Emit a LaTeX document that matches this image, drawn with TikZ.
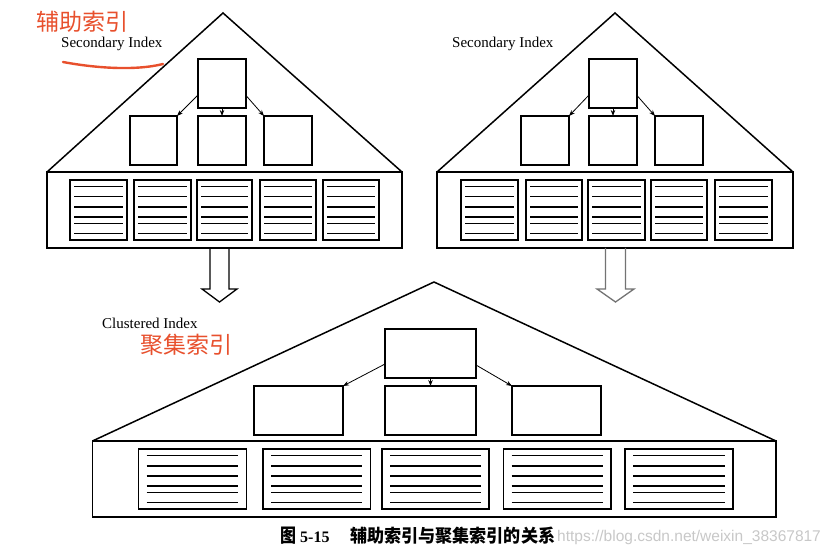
\documentclass[tikz,border=0pt]{standalone}
\usepackage{fontspec}
\setmainfont{Liberation Serif}
\newfontfamily\cjkfont{Noto Sans CJK SC}
\newfontfamily\wmfont{Liberation Sans}
\usetikzlibrary{arrows.meta,calc}
\definecolor{annot}{RGB}{232,80,45}
\definecolor{wmgray}{RGB}{200,200,200}
\tikzset{
  box/.style={draw, line width=1.6pt, inner sep=0pt, outer sep=0pt},
  tri/.style={line width=1.5pt, line join=miter},
  leafline/.style={line width=1.4pt},
  conn/.style={line width=0.8pt, -{Stealth[length=6pt,width=4.5pt]}},
  bigarrow/.style={line width=1.3pt, line join=miter},
  entitle/.style={anchor=base west, inner sep=0pt, font=\fontsize{15}{15}\selectfont},
  redtitle/.style={anchor=center, inner sep=0pt, text=annot, font=\cjkfont\fontsize{23}{23}\selectfont},
  captext/.style={anchor=base west, inner sep=0pt, font=\cjkfont\bfseries},
}
\newcommand\bx[5]{\node[box, minimum width={(#4)-(#2)}, minimum height={(#5)-(#3)}] (#1) at ({((#2)+(#4))/2},{((#3)+(#5))/2}) {};}
\newcommand\leafbox[5]{\bx{#1}{#2}{#3}{#4}{#5}%
  \foreach \fr in {0.105,0.28,0.45,0.617,0.725,0.89}{%
    \draw[leafline] ($(#1.north west)!\fr!(#1.south west)$) ++({0.075*((#4)-(#2))},0) -- ++({0.85*((#4)-(#2))},0);}}
\begin{document}
\begin{tikzpicture}[x=1pt,y=-1pt]
\fill[white] (0,0) rectangle (835,553);
\useasboundingbox (0,0) rectangle (835,553);

% ---------- top-left secondary index ----------
\bx{lbase}{47}{172}{402}{248}
\coordinate (lapex) at (223,13);
\draw[tri] (lbase.north west) -- (lapex) -- (lbase.north east);
\bx{lroot}{198}{59}{246}{108}
\bx{lc1}{130}{116}{177}{165}
\bx{lc2}{198}{116}{246}{165}
\bx{lc3}{264}{116}{312}{165}
\draw[conn] ([yshift=-11.5pt]lroot.west) -- (lc1.north east);
\draw[conn] (lroot.south) -- (lc2.north);
\draw[conn] ([yshift=-12pt]lroot.east) -- (lc3.north west);
\leafbox{ll1}{70}{180}{127}{240}
\leafbox{ll2}{134}{180}{191}{240}
\leafbox{ll3}{197}{180}{252}{240}
\leafbox{ll4}{260}{180}{316}{240}
\leafbox{ll5}{323}{180}{379}{240}
\node[entitle] (ltitle) at (61,48) {Secondary Index};
\node[redtitle] (lred) at (82.5,22) {辅助索引};
\draw[annot, line width=2.4pt, line cap=round] (63,62) .. controls (95,68) and (135,71) .. (163,64);

% ---------- top-right secondary index ----------
\bx{rbase}{437}{172}{793}{248}
\coordinate (rapex) at (615,13);
\draw[tri] (rbase.north west) -- (rapex) -- (rbase.north east);
\bx{rroot}{589}{59}{637}{108}
\bx{rc1}{521}{116}{569}{165}
\bx{rc2}{589}{116}{637}{165}
\bx{rc3}{655}{116}{703}{165}
\draw[conn] ([yshift=-11.5pt]rroot.west) -- (rc1.north east);
\draw[conn] (rroot.south) -- (rc2.north);
\draw[conn] ([yshift=-12pt]rroot.east) -- (rc3.north west);
\leafbox{rl1}{461}{180}{518}{240}
\leafbox{rl2}{526}{180}{582}{240}
\leafbox{rl3}{588}{180}{645}{240}
\leafbox{rl4}{651}{180}{707}{240}
\leafbox{rl5}{715}{180}{772}{240}
\node[entitle] (rtitle) at (452,48) {Secondary Index};

% ---------- hollow arrows ----------
\coordinate (arrL) at (219.5,248);
\coordinate (arrR) at (615.5,248);
\draw[bigarrow] ([xshift=-9.5pt]arrL) -- ++(0,41) -- ++(-8,0) -- ++(17.5,13) -- ++(17.5,-13) -- ++(-8,0) -- ++(0,-41);
\draw[bigarrow, draw=black!55] ([xshift=-10pt]arrR) -- ++(0,41) -- ++(-8.5,0) -- ++(18.5,13) -- ++(18.5,-13) -- ++(-8.5,0) -- ++(0,-41);

% ---------- bottom clustered index ----------
\bx{cbase}{92.5}{441}{776}{517}
\coordinate (capex) at (434,282);
\draw[tri] (cbase.north west) -- (capex) -- (cbase.north east);
\bx{croot}{385}{329}{476}{378}
\bx{cc1}{254}{386}{343}{435}
\bx{cc2}{385}{386}{476}{435}
\bx{cc3}{512}{386}{601}{435}
\draw[conn] ([yshift=-10.5pt]croot.west) -- (cc1.north east);
\draw[conn] (croot.south) -- (cc2.north);
\draw[conn] ([yshift=-11.5pt]croot.east) -- (cc3.north west);
\leafbox{cl1}{138.5}{449}{246.5}{509}
\leafbox{cl2}{263}{449}{370.5}{509}
\leafbox{cl3}{382}{449}{489}{509}
\leafbox{cl4}{503.5}{449}{611}{509}
\leafbox{cl5}{625}{449}{733}{509}
\node[entitle] (ctitle) at (102,328) {Clustered Index};
\node[redtitle] (cred) at (186,345) {聚集索引};

% ---------- caption ----------
\node[captext] (capfig) at (280,542) {\resizebox{16pt}{15.5pt}{图}};
\node[anchor=base west, inner sep=0pt, font=\bfseries\fontsize{16}{16}\selectfont] (capnum) at (300,542) {5-15};
\node[captext] (captxt) at (350,542) {\resizebox{205pt}{15.5pt}{辅助索引与聚集索引的关系}};
\node[anchor=base west, inner sep=0pt, text=wmgray, font=\wmfont\fontsize{15.5}{15.5}\selectfont] (wm) at (557,541) {https://blog.csdn.net/weixin\_38367817};
\end{tikzpicture}
\end{document}
